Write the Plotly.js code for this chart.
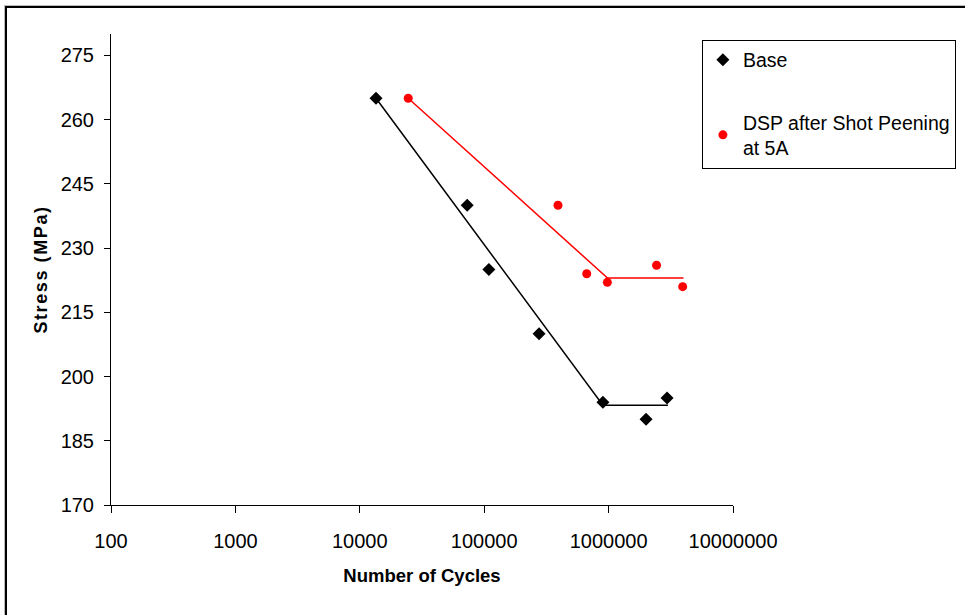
<!DOCTYPE html>
<html>
<head>
<meta charset="utf-8">
<script src="https://cdn.plot.ly/plotly-3.0.1.min.js"></script>
<style>
  html, body { margin: 0; padding: 0; background: #fff; }
  #wrap { position: relative; width: 965px; height: 615px; overflow: hidden; }
  #frame { position: absolute; left: 5px; top: 6px; width: 1000px; height: 700px;
           border-left: 2px solid #000; border-top: 2px solid #000;
           box-shadow: -1px -1px 0 #bbb; pointer-events: none; }
  #chart { position: absolute; left: 0; top: 0; width: 965px; height: 615px; }
</style>
</head>
<body>
<div id="wrap">
  <div id="chart"></div>
  <div id="frame"></div>
</div>
<script>
// Base series
const baseCycles = [13500, 73000, 109000, 276000, 900000, 2000000, 2950000];
const baseStress = [265, 240, 225, 210, 194, 190, 195];
const baseFitCycles = [13500, 900000, 3000000];
const baseFitStress = [265, 193.3, 193.3];

// DSP after Shot Peening at 5A
const dspCycles = [24500, 392000, 667000, 977000, 2430000, 3940000];
const dspStress = [265, 240, 224, 222, 226, 221];
const dspFitCycles = [24500, 980000, 4000000];
const dspFitStress = [265, 223, 223];

const xTickVals = [100, 1000, 10000, 100000, 1000000, 10000000];
const xTickText = ['100', '1000', '10000', '100000', '1000000', '10000000'];
const yTickVals = [170, 185, 200, 215, 230, 245, 260, 275];

const FONT = 'Arial, "Liberation Sans", sans-serif';

const traces = [
  { x: baseFitCycles, y: baseFitStress, mode: 'lines', line: { color: '#000', width: 1.5 },
    showlegend: false, hoverinfo: 'skip' },
  { x: dspFitCycles, y: dspFitStress, mode: 'lines', line: { color: '#ff0000', width: 1.5 },
    showlegend: false, hoverinfo: 'skip' },
  { x: baseCycles, y: baseStress, mode: 'markers', name: 'Base', legendgroup: 'a',
    marker: { symbol: 'diamond', size: 10, color: '#000' } },
  { x: dspCycles, y: dspStress, mode: 'markers', name: 'DSP after Shot Peening<br>at 5A', legendgroup: 'b',
    marker: { symbol: 'circle', size: 9, color: '#ff0000' } }
];

const layout = {
  width: 965, height: 615,
  margin: { l: 111, r: 232, t: 34, b: 110, autoexpand: false },
  paper_bgcolor: '#fff', plot_bgcolor: '#fff',
  font: { family: FONT, color: '#000', size: 20 },
  showlegend: true,
  legend: {
    x: 0.950, y: 0.988, xanchor: 'left', yanchor: 'top',
    bordercolor: '#000', borderwidth: 1, bgcolor: '#fff',
    font: { family: FONT, size: 19.5, color: '#000' },
    tracegroupgap: 34,
    entrywidth: 253
  },
  xaxis: {
    type: 'log', range: [2, 7],
    tickvals: xTickVals, ticktext: xTickText,
    ticks: 'outside', ticklen: 7, tickcolor: '#000', tickwidth: 1,
    showline: true, linecolor: '#000', linewidth: 1,
    showgrid: false, zeroline: false,
    tickfont: { family: FONT, size: 20, color: '#000' },
    ticklabelstandoff: 11,
    title: { text: 'Number of Cycles', font: { family: FONT, size: 18.5, color: '#000', weight: 'bold' }, standoff: 18 }
  },
  yaxis: {
    range: [170, 280],
    tickvals: yTickVals,
    ticks: 'outside', ticklen: 6, tickcolor: '#000', tickwidth: 1,
    showline: true, linecolor: '#000', linewidth: 1,
    showgrid: false, zeroline: false,
    tickfont: { family: FONT, size: 20, color: '#000' },
    ticklabelstandoff: 6,
    title: { text: 'Stress (MPa)', font: { family: FONT, size: 18, color: '#000', weight: 'bold' }, standoff: 8 }
  }
};

Plotly.newPlot('chart', traces, layout, { displayModeBar: false, staticPlot: true }).then(function () {
  document.querySelectorAll('.ytitle').forEach(function (t) {
    t.style.letterSpacing = '1.6px';
  });
});
</script>
</body>
</html>
